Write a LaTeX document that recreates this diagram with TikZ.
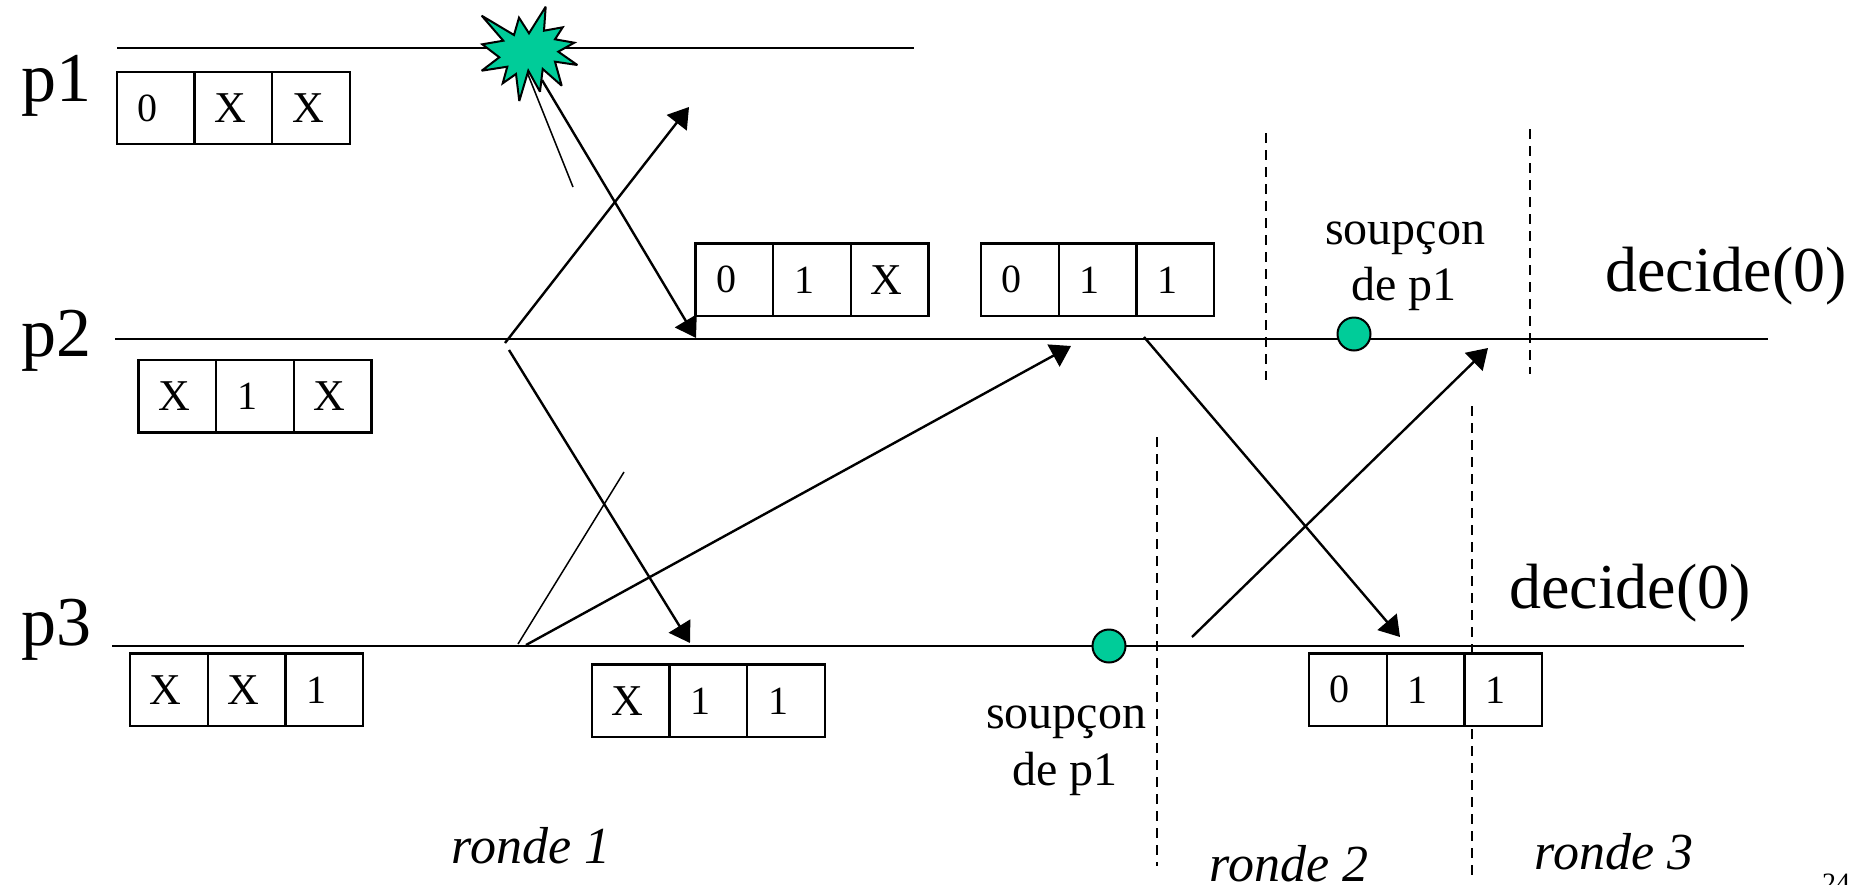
\documentclass[tikz,border=0pt]{standalone}
\usepackage{fontspec}
\setmainfont{Liberation Serif}
\usetikzlibrary{arrows.meta}
\definecolor{mint}{HTML}{00CC99}
\newcommand{\fsz}[1]{\fontsize{#1}{#1}\selectfont}
\tikzset{
  tline/.style={line width=2pt},
  msg/.style={line width=2.4pt,-{Triangle[length=20pt,width=25pt]}},
  thinline/.style={line width=1.5pt},
  dashline/.style={line width=1.6pt,dash pattern=on 10pt off 7pt},
  cell/.style={draw,fill=white,line width=2.3pt,anchor=north west,outer sep=0pt,minimum width=77.7pt,minimum height=72.6pt,inner sep=0pt},
  lab/.style={anchor=base,inner sep=0pt},
  proc/.style={lab,font=\fsz{70}},
  dec/.style={lab,font=\fsz{64}},
  sus/.style={lab,font=\fsz{48}},
  rnd/.style={lab,font=\fsz{52}\itshape},
  dot/.style={circle,draw,fill=mint,line width=2pt,minimum size=33pt,inner sep=0pt},
}
\newcommand{\cellbody}[1]{\ifx#1X\hspace*{-6pt}{\fsz{44}X}\else\hspace*{-16pt}{\fsz{40}#1}\fi}
\newcommand{\threecell}[6]{%
  \node[cell] (#1a) at (#2,#3) {\cellbody{#4}};
  \node[cell] (#1b) at (#2+77.7,#3) {\cellbody{#5}};
  \node[cell] (#1c) at (#2+155.4,#3) {\cellbody{#6}};}
\begin{document}
\begin{tikzpicture}[x=1pt,y=-1pt]
\useasboundingbox (0,0) rectangle (1866,884);
% free ends
\coordinate (l1a) at (117,48); \coordinate (l1b) at (914,48);
\coordinate (l2a) at (115,339); \coordinate (l2b) at (1768,339);
\coordinate (l3a) at (112,646); \coordinate (l3b) at (1744,646);
\coordinate (t1a) at (527,72); \coordinate (t1b) at (573,187);
\coordinate (t2a) at (518,644); \coordinate (t2b) at (624,472);
\coordinate (m1a) at (542,80); \coordinate (m1b) at (696,338);
\coordinate (m2a) at (505,343); \coordinate (m2b) at (689,107);
\coordinate (m3a) at (509,350); \coordinate (m3b) at (690,643);
\coordinate (m4a) at (526,645); \coordinate (m4b) at (1071,346);
\coordinate (m5a) at (1144,337); \coordinate (m5b) at (1400,637);
\coordinate (m6a) at (1192,637); \coordinate (m6b) at (1488,348);
\coordinate (d1a) at (1266,133); \coordinate (d1b) at (1266,380);
\coordinate (d2a) at (1530,129); \coordinate (d2b) at (1530,374);
\coordinate (d3a) at (1157,437); \coordinate (d3b) at (1157,866);
\coordinate (d4a) at (1472,406); \coordinate (d4b) at (1472,875);
% timelines
\draw[tline] (l1a) -- (l1b);
\draw[tline] (l2a) -- (l2b);
\draw[tline] (l3a) -- (l3b);
% round limits
\draw[dashline] (d1a) -- (d1b);
\draw[dashline] (d2a) -- (d2b);
\draw[dashline] (d3a) -- (d3b);
\draw[dashline] (d4a) -- (d4b);
% messages
\draw[thinline] (t1a) -- (t1b);
\draw[thinline] (t2a) -- (t2b);
\draw[msg] (m2a) -- (m2b);
\draw[msg] (m3a) -- (m3b);
\draw[msg] (m4a) -- (m4b);
\draw[msg] (m5a) -- (m5b);
\draw[msg] (m6a) -- (m6b);
% crash star
\draw[fill=mint,line width=2pt,miter limit=3]
 (481.7,15.7) -- (514,35) -- (519,17.7) -- (529,33.3) -- (545.7,6.7) -- (544,30.7) -- (562.7,27.3) -- (555,39.3)
 -- (574.3,42.7) -- (558.3,51.7) -- (577.3,65) -- (555,61.7) -- (561.7,85.7) -- (542.7,69) -- (540,91.7)
 -- (528.3,70.7) -- (519.3,101) -- (516,74) -- (502.7,83.3) -- (507.3,66.7) -- (481.7,70.7) -- (499.3,57.3)
 -- (482.3,44.3) -- (503.3,40.7) -- cycle;
% memory boxes
\threecell{ba}{116.7}{71.7}{0}{X}{X}
\threecell{bb}{138.5}{360}{X}{1}{X}
\threecell{bc}{130}{653.5}{X}{X}{1}
\threecell{bd}{695.5}{243.5}{0}{1}{X}
\threecell{be}{981}{243.5}{0}{1}{1}
\threecell{bf}{591.8}{664.5}{X}{1}{1}
\threecell{bg}{1309}{653.5}{0}{1}{1}
\draw[msg] (m1a) -- (m1b);
% suspicion dots
\node[dot] (s1) at (1354,334) {};
\node[dot] (s2) at (1109,646) {};
% labels
\node[proc] (p1) at (56,101) {p1};
\node[proc] (p2) at (56,356) {p2};
\node[proc] (p3) at (56,645) {p3};
\node[dec] (dec1) at (1726,291) {decide(0)};
\node[dec] (dec2) at (1630,608) {decide(0)};
\node[sus] (su1a) at (1405,244) {soupçon};
\node[sus] (su1b) at (1404,300) {de p1};
\node[sus] (su2a) at (1066,728) {soupçon};
\node[sus] (su2b) at (1065,785) {de p1};
\node[rnd] (r1) at (531,863) {ronde 1};
\node[rnd] (r2) at (1289,881) {ronde 2};
\node[rnd] (r3) at (1614,869) {ronde 3};
\node[lab,font=\fsz{28}] (pg) at (1836,892) {24};
\end{tikzpicture}
\end{document}
